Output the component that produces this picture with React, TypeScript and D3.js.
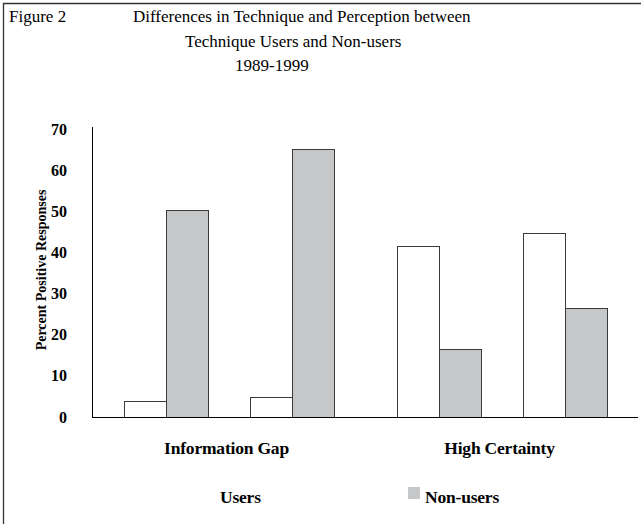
import React, { useRef, useEffect } from 'react';
import * as d3 from 'd3';

// chart values
const categories = ['Information Gap', 'High Certainty'];
const subgroups = ['first', 'second'];
const seriesNames = ['Users', 'Non-users'];
const usersValues = [4.0, 4.8, 41.6, 44.8];
const nonUsersValues = [50.2, 65.2, 16.6, 26.6];
const yTicks = [0, 10, 20, 30, 40, 50, 60, 70];
const titleLines = [
  'Differences in Technique and Perception between',
  'Technique Users and Non-users',
  '1989-1999',
];

const width = 641;
const height = 524;
const font = 'Liberation Serif, DejaVu Serif, serif';
const colors = { Users: '#ffffff', 'Non-users': '#c6c7c9' };

const App = () => {
  const svgRef = useRef(null);

  useEffect(() => {
    const svg = d3.select(svgRef.current);
    svg.selectAll('*').remove();

    // frame around the figure (cut off at right/bottom)
    svg.append('path')
      .attr('d', `M3.5,${height} V3.5 H${width}`)
      .attr('fill', 'none')
      .attr('stroke', '#333')
      .attr('stroke-width', 1.3);

    // titles
    svg.append('text')
      .attr('x', 9)
      .attr('y', 22)
      .attr('font-family', font)
      .attr('font-size', 17)
      .text('Figure 2');

    const titleX = [133, 185, 235];
    titleLines.forEach((t, i) => {
      svg.append('text')
        .attr('x', titleX[i])
        .attr('y', 22 + i * 24.5)
        .attr('font-family', font)
        .attr('font-size', 17)
        .text(t);
    });

    // scales
    const x0 = d3.scaleBand().domain(categories).range([92, 638]);
    const x1 = d3.scaleBand()
      .domain(subgroups)
      .range([0, x0.bandwidth()])
      .paddingInner(1 / 3)
      .paddingOuter(0.25);
    const x2 = d3.scaleBand().domain(seriesNames).range([0, x1.bandwidth()]);
    const y = d3.scaleLinear().domain([0, 70]).range([417, 129]);

    const rows = [];
    categories.forEach((c, ci) => {
      subgroups.forEach((s, si) => {
        const k = ci * subgroups.length + si;
        rows.push({ cat: c, sub: s, series: 'Users', value: usersValues[k] });
        rows.push({ cat: c, sub: s, series: 'Non-users', value: nonUsersValues[k] });
      });
    });

    // bars
    svg.append('g')
      .selectAll('rect')
      .data(rows)
      .join('rect')
      .attr('x', d => Math.round(x0(d.cat) + x1(d.sub) + x2(d.series)) + 0.5)
      .attr('y', d => Math.round(y(d.value)) + 0.5)
      .attr('width', x2.bandwidth())
      .attr('height', d => y(0) - Math.round(y(d.value)))
      .attr('fill', d => colors[d.series])
      .attr('stroke', '#3a3a3a')
      .attr('stroke-width', 1);

    // y axis
    svg.append('line')
      .attr('x1', 92.5).attr('x2', 92.5)
      .attr('y1', 127).attr('y2', y(0))
      .attr('stroke', '#000')
      .attr('stroke-width', 1);

    svg.append('g')
      .selectAll('text')
      .data(yTicks)
      .join('text')
      .attr('x', 67)
      .attr('y', d => y(d) + 5.5)
      .attr('text-anchor', 'end')
      .attr('font-family', font)
      .attr('font-size', 16)
      .attr('font-weight', 'bold')
      .text(d => d);

    svg.append('text')
      .attr('transform', `translate(46,270) rotate(-90)`)
      .attr('text-anchor', 'middle')
      .attr('font-family', font)
      .attr('font-size', 14)
      .attr('font-weight', 'bold')
      .text('Percent Positive Responses');

    // x axis
    svg.append('line')
      .attr('x1', 92).attr('x2', 638)
      .attr('y1', y(0) + 0.5).attr('y2', y(0) + 0.5)
      .attr('stroke', '#000')
      .attr('stroke-width', 1.2);

    svg.append('g')
      .selectAll('text')
      .data(categories)
      .join('text')
      .attr('x', d => x0(d) + x0.bandwidth() / 2 - 2)
      .attr('y', 454)
      .attr('text-anchor', 'middle')
      .attr('font-family', font)
      .attr('font-size', 17.5)
      .attr('font-weight', 'bold')
      .attr('letter-spacing', -0.2)
      .text(d => d);

    // legend
    const legendX = [203, 408];
    seriesNames.forEach((s, i) => {
      svg.append('rect')
        .attr('x', legendX[i])
        .attr('y', 487)
        .attr('width', 12)
        .attr('height', 12)
        .attr('fill', colors[s]);
      svg.append('text')
        .attr('x', legendX[i] + 17)
        .attr('y', 502.5)
        .attr('font-family', font)
        .attr('font-size', 17.5)
        .attr('font-weight', 'bold')
        .attr('letter-spacing', -0.2)
        .text(s);
    });
  }, []);

  return (
    <svg
      ref={svgRef}
      width={width}
      height={height}
      style={{ position: 'absolute', left: 0, top: 0, background: '#fff' }}
    />
  );
};

export default App;
